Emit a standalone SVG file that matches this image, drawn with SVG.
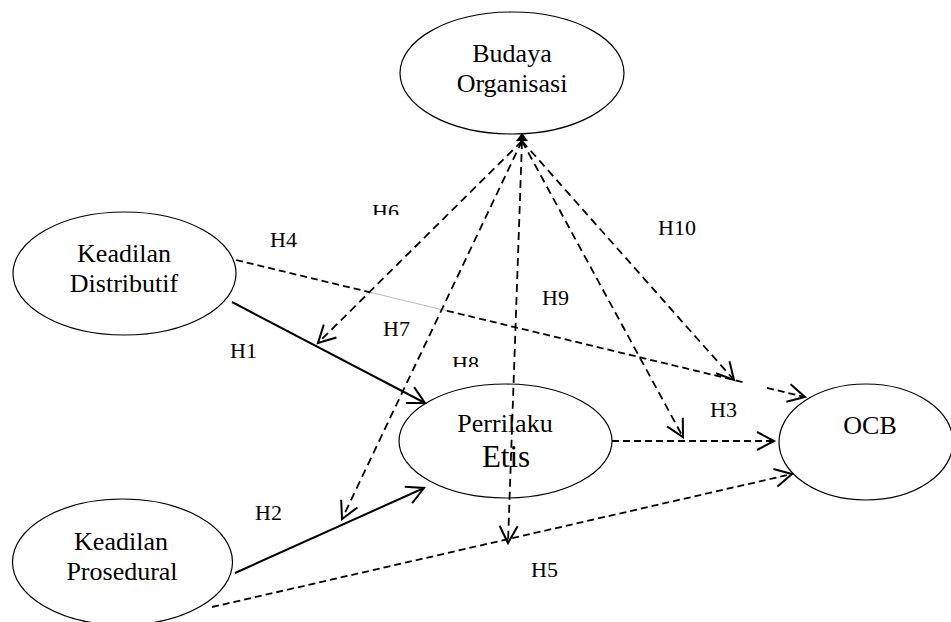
<svg xmlns="http://www.w3.org/2000/svg" width="951" height="622" viewBox="0 0 951 622">
<style>
.node ellipse{fill:#fff;stroke:#000;stroke-width:1.2}
.nt{font-family:"Liberation Serif","Times New Roman",serif;font-size:26px;fill:#000;text-anchor:middle}
.lbl{font-family:"Liberation Serif","Times New Roman",serif;font-size:22px;fill:#000}
.solid{stroke:#000;stroke-width:2;fill:none}
.dash{stroke:#000;stroke-width:1.8;fill:none;stroke-dasharray:7,4}
.dashb{stroke:#000;stroke-width:1.8;fill:none;stroke-dasharray:8,5}
</style>
<defs>
<marker id="arr" markerUnits="userSpaceOnUse" viewBox="-20 -12 24 24" markerWidth="24" markerHeight="24" refX="0" refY="0" orient="auto">
<path d="M-17,-9 L0,0 L-17,9" fill="none" stroke="#000" stroke-width="2"/>
</marker>
<clipPath id="c6"><rect x="360" y="190" width="50" height="25"/></clipPath>
<clipPath id="c8"><rect x="440" y="340" width="50" height="27"/></clipPath>
</defs>
<rect width="951" height="622" fill="#fff"/>
<g id="node-budaya" class="node">
<ellipse cx="512" cy="73" rx="112" ry="61"/>
<text class="nt" x="512" y="62">Budaya</text>
<text class="nt" x="512" y="92">Organisasi</text>
</g>
<g id="node-distributif" class="node">
<ellipse cx="124.5" cy="273.5" rx="111.5" ry="61.5"/>
<text class="nt" x="124" y="262">Keadilan</text>
<text class="nt" x="124" y="292">Distributif</text>
</g>
<g id="node-prosedural" class="node">
<ellipse cx="122.5" cy="562" rx="110" ry="63"/>
<text class="nt" x="121" y="550">Keadilan</text>
<text class="nt" x="122" y="580">Prosedural</text>
</g>
<g id="node-perilaku" class="node">
<ellipse cx="505.5" cy="441" rx="106.5" ry="57"/>
<text class="nt" x="505" y="432">Perrilaku</text>
<text class="nt" x="506" y="467" style="font-size:31px">Etis</text>
</g>
<g id="node-ocb" class="node">
<ellipse cx="866" cy="442" rx="87" ry="58"/>
<text class="nt" x="870" y="434">OCB</text>
</g>
<g id="connectors">
<path class="solid" d="M232,302 L425,403" marker-end="url(#arr)"/>
<path class="solid" d="M235,573 L424,488" marker-end="url(#arr)"/>
<path class="dash" d="M236,260 L370,292.3"/>
<path d="M370,292.3 L447,310.8" stroke="#bbb" stroke-width="1" fill="none"/>
<path class="dash" d="M447,310.8 L745,382.6"/>
<path class="dash" d="M767,387.9 L805,397" marker-end="url(#arr)"/>
<path class="dash" d="M612,441 L774,441" marker-end="url(#arr)"/>
<path class="dash" d="M212,607 L792,474" marker-end="url(#arr)"/>
<path class="dashb" d="M522,141 L318,343" marker-end="url(#arr)"/>
<path class="dashb" d="M522,141 L342,519" marker-end="url(#arr)"/>
<path class="dashb" d="M522,141 L508,543" marker-end="url(#arr)"/>
<path class="dashb" d="M522,141 L683,437" marker-end="url(#arr)"/>
<path class="dashb" d="M522,141 L734,380" marker-end="url(#arr)"/>
<path d="M522,133 L516,141 L528,141 Z" fill="#000"/>
</g>
<g id="labels">
<text class="lbl" x="230" y="358">H1</text>
<text class="lbl" x="255" y="520">H2</text>
<text class="lbl" x="710" y="417">H3</text>
<text class="lbl" x="270" y="247">H4</text>
<text class="lbl" x="531" y="577">H5</text>
<text class="lbl" x="372" y="219" clip-path="url(#c6)">H6</text>
<text class="lbl" x="383" y="336">H7</text>
<text class="lbl" x="452" y="371" clip-path="url(#c8)">H8</text>
<text class="lbl" x="542" y="305">H9</text>
<text class="lbl" x="658" y="235">H10</text>
</g>
</svg>
